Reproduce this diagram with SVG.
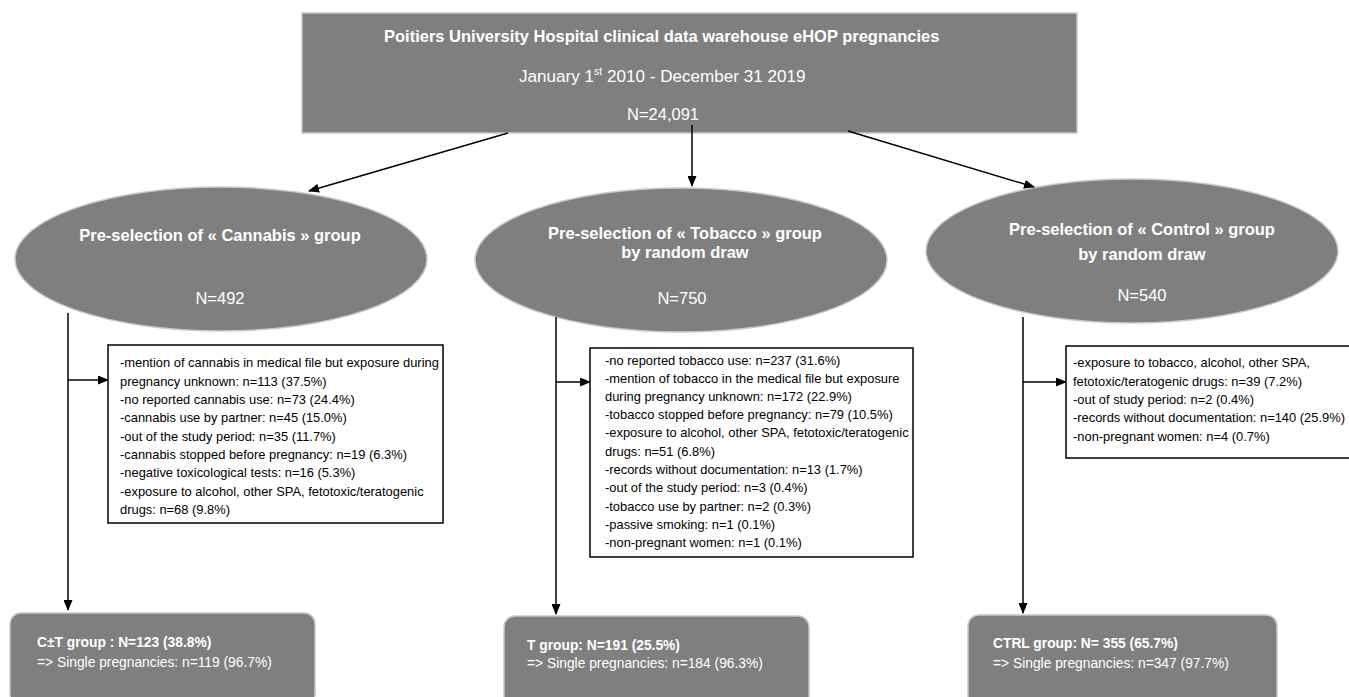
<svg xmlns="http://www.w3.org/2000/svg" width="1349" height="697" viewBox="0 0 1349 697">
<style>
.node{fill:#7f7f7f;stroke:#c8c8c8;stroke-width:1.5}
.big{font-family:"Liberation Sans",Arial,sans-serif;font-size:16.5px;fill:#ffffff}
.bold{font-weight:bold}
.det{font-family:"Liberation Sans",Arial,sans-serif;font-size:12.9px;fill:#000000}
.res{font-family:"Liberation Sans",Arial,sans-serif;font-size:13.8px;fill:#ffffff}
.box{fill:#ffffff;stroke:#000000;stroke-width:1.5}
.conn{stroke:#000000;stroke-width:1.5;fill:none}
</style>
<defs>
<marker id="arr" markerUnits="userSpaceOnUse" markerWidth="11" markerHeight="9" refX="10" refY="4.5" orient="auto">
<path d="M0,0 L11,4.5 L0,9 z" fill="#000000"/>
</marker>
<clipPath id="clipT"><rect x="591" y="349" width="321" height="207"/></clipPath>
</defs>

<g id="top">
<rect class="node" x="302" y="13" width="775" height="120"/>
<text class="big bold" x="384" y="42">Poitiers University Hospital clinical data warehouse eHOP pregnancies</text>
<text class="big" x="519" y="82" style="font-size:17.1px">January 1<tspan style="font-size:10.5px" dy="-7">st</tspan><tspan dy="7"> 2010 - December 31 2019</tspan></text>
<text class="big" x="627" y="120">N=24,091</text>
</g>

<g id="cannabis">
<ellipse class="node" cx="221" cy="259" rx="206" ry="72"/>
<text class="big bold" x="220" y="241" text-anchor="middle">Pre-selection of « Cannabis » group</text>
<text class="big" x="220" y="304" text-anchor="middle">N=492</text>
</g>

<g id="tobacco">
<ellipse class="node" cx="681" cy="260" rx="206" ry="72"/>
<text class="big bold" x="685" y="239" text-anchor="middle">Pre-selection of « Tobacco » group</text>
<text class="big bold" x="685" y="258" text-anchor="middle">by random draw</text>
<text class="big" x="682" y="304" text-anchor="middle">N=750</text>
</g>

<g id="control">
<ellipse class="node" cx="1132" cy="251" rx="206" ry="72"/>
<text class="big bold" x="1142" y="235" text-anchor="middle">Pre-selection of « Control » group</text>
<text class="big bold" x="1142" y="260" text-anchor="middle">by random draw</text>
<text class="big" x="1142" y="301" text-anchor="middle">N=540</text>
</g>

<g id="cannabis-excl">
<rect class="box" x="108" y="345" width="335" height="178"/>
<text class="det" x="120" y="367">-mention of cannabis in medical file but exposure during</text>
<text class="det" x="120" y="386">pregnancy unknown: n=113 (37.5%)</text>
<text class="det" x="120" y="404">-no reported cannabis use: n=73 (24.4%)</text>
<text class="det" x="120" y="422">-cannabis use by partner: n=45 (15.0%)</text>
<text class="det" x="120" y="441">-out of the study period: n=35 (11.7%)</text>
<text class="det" x="120" y="459">-cannabis stopped before pregnancy: n=19 (6.3%)</text>
<text class="det" x="120" y="477">-negative toxicological tests: n=16 (5.3%)</text>
<text class="det" x="120" y="496">-exposure to alcohol, other SPA, fetotoxic/teratogenic</text>
<text class="det" x="120" y="514">drugs: n=68 (9.8%)</text>
</g>

<g id="tobacco-excl">
<rect class="box" x="590" y="348" width="323" height="209"/>
<g clip-path="url(#clipT)">
<text class="det" x="605" y="365">-no reported tobacco use: n=237 (31.6%)</text>
<text class="det" x="605" y="383">-mention of tobacco in the medical file but exposure</text>
<text class="det" x="605" y="401">during pregnancy unknown: n=172 (22.9%)</text>
<text class="det" x="605" y="419">-tobacco stopped before pregnancy: n=79 (10.5%)</text>
<text class="det" x="605" y="437">-exposure to alcohol, other SPA, fetotoxic/teratogenic</text>
<text class="det" x="605" y="456">drugs: n=51 (6.8%)</text>
<text class="det" x="605" y="474">-records without documentation: n=13 (1.7%)</text>
<text class="det" x="605" y="492">-out of the study period: n=3 (0.4%)</text>
<text class="det" x="605" y="511">-tobacco use by partner: n=2 (0.3%)</text>
<text class="det" x="605" y="529">-passive smoking: n=1 (0.1%)</text>
<text class="det" x="605" y="547">-non-pregnant women: n=1 (0.1%)</text>
</g>
</g>

<g id="control-excl">
<rect class="box" x="1066" y="346" width="290" height="112"/>
<text class="det" x="1073" y="367">-exposure to tobacco, alcohol, other SPA,</text>
<text class="det" x="1073" y="386">fetotoxic/teratogenic drugs: n=39 (7.2%)</text>
<text class="det" x="1073" y="404">-out of study period: n=2 (0.4%)</text>
<text class="det" x="1073" y="422">-records without documentation: n=140 (25.9%)</text>
<text class="det" x="1073" y="441">-non-pregnant women: n=4 (0.7%)</text>
</g>

<g id="ct-group">
<rect class="node" x="10" y="613" width="305" height="92" rx="11"/>
<text class="res bold" x="37" y="647">C±T group : N=123 (38.8%)</text>
<text class="res" x="37" y="667">=&gt; Single pregnancies: n=119 (96.7%)</text>
</g>

<g id="t-group">
<rect class="node" x="504" y="616" width="305" height="92" rx="11"/>
<text class="res bold" x="527" y="650">T group: N=191 (25.5%)</text>
<text class="res" x="527" y="668">=&gt; Single pregnancies: n=184 (96.3%)</text>
</g>

<g id="ctrl-group">
<rect class="node" x="968" y="615" width="309" height="92" rx="11"/>
<text class="res bold" x="993" y="648">CTRL group: N= 355 (65.7%)</text>
<text class="res" x="993" y="668">=&gt; Single pregnancies: n=347 (97.7%)</text>
</g>

<g id="connectors">
<line class="conn" x1="508" y1="133" x2="309" y2="191" marker-end="url(#arr)"/>
<line class="conn" x1="692" y1="125" x2="692" y2="186" marker-end="url(#arr)"/>
<line class="conn" x1="848" y1="131" x2="1034" y2="187" marker-end="url(#arr)"/>
<line class="conn" x1="68" y1="313" x2="68" y2="610" marker-end="url(#arr)"/>
<line class="conn" x1="68" y1="380" x2="108" y2="380" marker-end="url(#arr)"/>
<line class="conn" x1="556" y1="317" x2="556" y2="614" marker-end="url(#arr)"/>
<line class="conn" x1="556" y1="382" x2="590" y2="382" marker-end="url(#arr)"/>
<line class="conn" x1="1023" y1="317" x2="1023" y2="613" marker-end="url(#arr)"/>
<line class="conn" x1="1023" y1="382" x2="1066" y2="382" marker-end="url(#arr)"/>
</g>
</svg>
